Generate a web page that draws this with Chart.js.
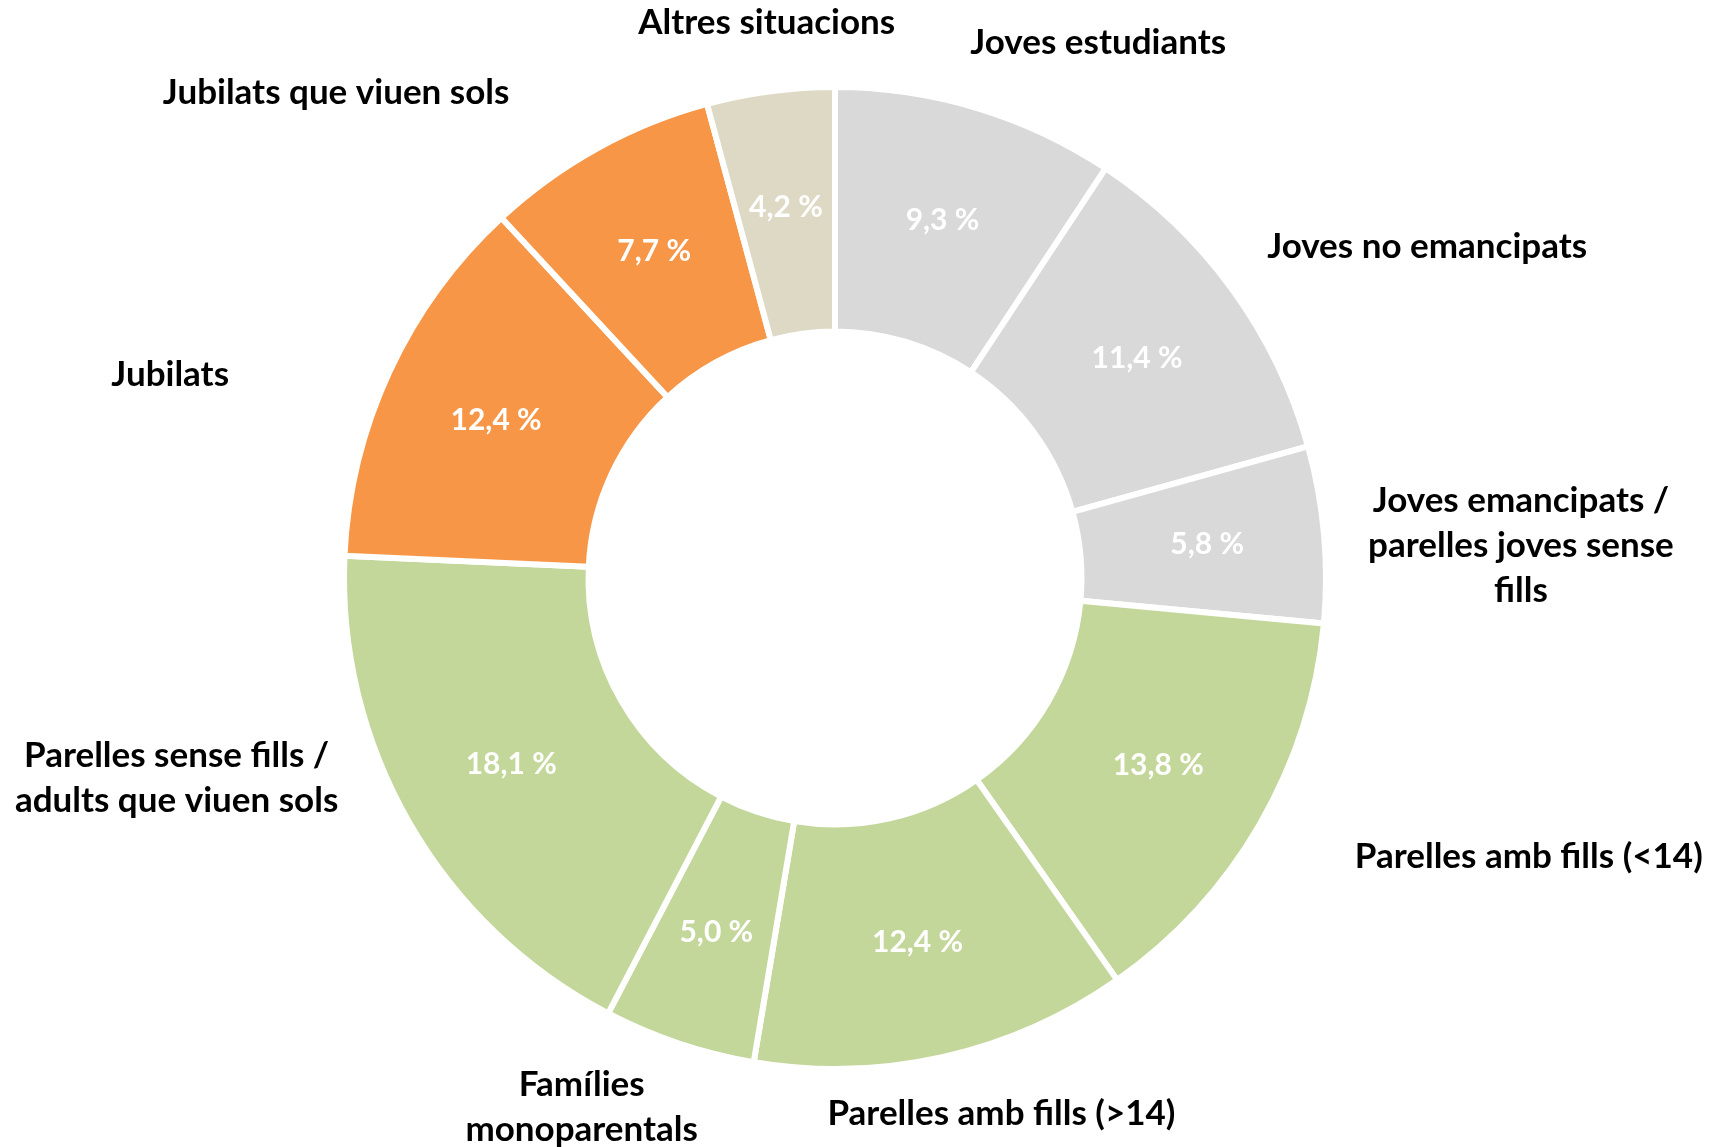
<!DOCTYPE html>
<html>
<head>
<meta charset="utf-8">
<script src="https://cdn.jsdelivr.net/npm/chart.js@4.4.1/dist/chart.umd.min.js"></script>
<style>
html,body{margin:0;padding:0;background:#fff;}
#c{display:block;}
</style>
</head>
<body>
<canvas id="c" width="1723" height="1147"></canvas>
<script>
const categories = [
  ['Joves estudiants'],
  ['Joves no emancipats'],
  ['Joves emancipats /', 'parelles joves sense', 'fills'],
  ['Parelles amb fills (<14)'],
  ['Parelles amb fills (>14)'],
  ['Famílies', 'monoparentals'],
  ['Parelles sense fills /', 'adults que viuen sols'],
  ['Jubilats'],
  ['Jubilats que viuen sols'],
  ['Altres situacions']
];
const values = [9.3, 11.4, 5.8, 13.8, 12.4, 5.0, 18.1, 12.4, 7.7, 4.2];
const valueLabels = ['9,3 %', '11,4 %', '5,8 %', '13,8 %', '12,4 %', '5,0 %', '18,1 %', '12,4 %', '7,7 %', '4,2 %'];
const sliceColors = ['#D9D9D9', '#D9D9D9', '#D9D9D9', '#C4D79B', '#C4D79B', '#C4D79B', '#C4D79B', '#F79646', '#F79646', '#DDD9C4'];

// Placement of category labels, relative to chart centre, in units of the outer radius
const labelPlacement = [
  [0.536, -1.090], [1.206, -0.675], [1.397, -0.065], [1.413, 0.567], [0.339, 1.092],
  [-0.516, 1.078], [-1.341, 0.408], [-1.354, -0.413], [-1.016, -0.989], [-0.139, -1.130]
];

const FONT = "Lato, 'Open Sans', sans-serif";

const labelPlugin = {
  id: 'labelPlugin',
  afterDatasetsDraw(chart) {
    const ctx = chart.ctx;
    const meta = chart.getDatasetMeta(0);
    ctx.save();
    ctx.textAlign = 'center';
    ctx.textBaseline = 'middle';
    meta.data.forEach((arc, i) => {
      const p = arc.getProps(['x', 'y', 'startAngle', 'endAngle', 'innerRadius', 'outerRadius'], true);
      const mid = (p.startAngle + p.endAngle) / 2;
      const r = p.innerRadius + 0.52 * (p.outerRadius - p.innerRadius);
      ctx.fillStyle = '#FFFFFF';
      ctx.font = "bold 30px " + FONT;
      ctx.fillText(valueLabels[i], p.x + Math.cos(mid) * r, p.y + Math.sin(mid) * r);

      const lines = categories[i];
      const lh = 45;
      const cx = p.x + labelPlacement[i][0] * p.outerRadius;
      const cy = p.y + labelPlacement[i][1] * p.outerRadius;
      ctx.fillStyle = '#000000';
      ctx.font = "bold 35px " + FONT;
      lines.forEach((t, k) => {
        ctx.fillText(t, cx, cy + (k - (lines.length - 1) / 2) * lh);
      });
    });
    ctx.restore();
  }
};

new Chart(document.getElementById('c'), {
  type: 'doughnut',
  data: {
    labels: categories.map(l => l.join(' ')),
    datasets: [{
      data: values,
      backgroundColor: sliceColors,
      borderColor: '#FFFFFF',
      borderWidth: 6,
      hoverOffset: 0
    }]
  },
  options: {
    responsive: false,
    animation: false,
    cutout: '50.2%',
    rotation: 0,
    layout: { padding: { left: 341, right: 394, top: 84, bottom: 75 } },
    plugins: { legend: { display: false }, tooltip: { enabled: false } }
  },
  plugins: [labelPlugin]
});
</script>
</body>
</html>
